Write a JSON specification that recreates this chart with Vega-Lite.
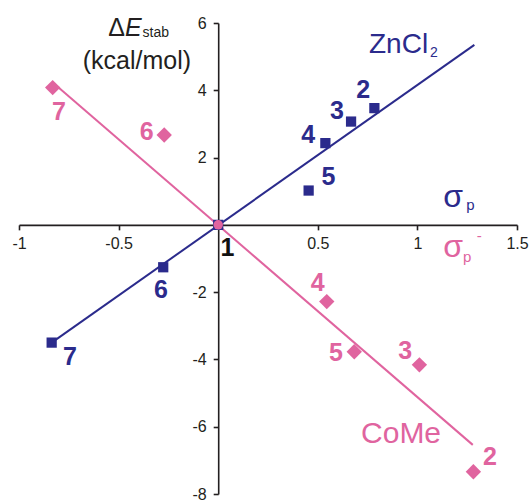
{
  "$schema": "https://vega.github.io/schema/vega-lite/v6.json",
  "width": 498,
  "height": 471,
  "autosize": {"type": "none"},
  "padding": {"left": 19, "top": 23, "right": 15, "bottom": 8},
  "background": "white",
  "config": {"view": {"stroke": null}, "text": {"font": "Liberation Sans"}},
  "datasets": {
    "points": [
      {"series": "ZnCl2", "id": "2", "x": 0.784, "y": 3.47},
      {"series": "ZnCl2", "id": "3", "x": 0.667, "y": 3.07},
      {"series": "ZnCl2", "id": "4", "x": 0.538, "y": 2.43},
      {"series": "ZnCl2", "id": "5", "x": 0.454, "y": 1.02},
      {"series": "ZnCl2", "id": "1", "x": 0, "y": 0},
      {"series": "ZnCl2", "id": "6", "x": -0.276, "y": -1.26},
      {"series": "ZnCl2", "id": "7", "x": -0.836, "y": -3.5},
      {"series": "CoMe", "id": "7", "x": -0.831, "y": 4.08},
      {"series": "CoMe", "id": "6", "x": -0.271, "y": 2.67},
      {"series": "CoMe", "id": "4", "x": 0.545, "y": -2.28},
      {"series": "CoMe", "id": "5", "x": 0.683, "y": -3.77},
      {"series": "CoMe", "id": "3", "x": 1.01, "y": -4.16},
      {"series": "CoMe", "id": "2", "x": 1.281, "y": -7.34}
    ],
    "fits": [
      {"series": "ZnCl2", "x": -0.836, "y": -3.5},
      {"series": "ZnCl2", "x": 1.286, "y": 5.35},
      {"series": "CoMe", "x": -0.803, "y": 4.09},
      {"series": "CoMe", "x": 1.278, "y": -6.54}
    ],
    "labels": [
      {"series": "ZnCl2", "label": "2", "x": 0.728, "y": 4.01},
      {"series": "ZnCl2", "label": "3", "x": 0.596, "y": 3.39},
      {"series": "ZnCl2", "label": "4", "x": 0.452, "y": 2.67},
      {"series": "ZnCl2", "label": "5", "x": 0.553, "y": 1.43},
      {"series": "ZnCl2", "label": "6", "x": -0.287, "y": -1.94},
      {"series": "ZnCl2", "label": "7", "x": -0.744, "y": -3.94},
      {"series": "origin", "label": "1", "x": 0.046, "y": -0.7},
      {"series": "CoMe", "label": "7", "x": -0.799, "y": 3.36},
      {"series": "CoMe", "label": "6", "x": -0.359, "y": 2.77},
      {"series": "CoMe", "label": "4", "x": 0.4995, "y": -1.74},
      {"series": "CoMe", "label": "5", "x": 0.591, "y": -3.8},
      {"series": "CoMe", "label": "3", "x": 0.939, "y": -3.74},
      {"series": "CoMe", "label": "2", "x": 1.364, "y": -6.89}
    ]
  },
  "encoding": {
    "x": {
      "field": "x", "type": "quantitative",
      "scale": {"domain": [-1, 1.5], "nice": false, "zero": false},
      "axis": {
        "orient": "bottom", "offset": -269.14, "title": null, "grid": false,
        "values": [-1, -0.5, 0.5, 1, 1.5], "labelExpr": "datum.value + ''",
        "labelFlush": false, "labelOverlap": false,
        "domainColor": "#231f20", "domainWidth": 1.6, "tickColor": "#231f20", "tickWidth": 1.6, "tickSize": 5,
        "labelFont": "Liberation Sans", "labelFontSize": 16, "labelColor": "#231f20", "labelPadding": 6
      }
    },
    "y": {
      "field": "y", "type": "quantitative",
      "scale": {"domain": [-8, 6], "nice": false, "zero": false},
      "axis": {
        "orient": "left", "offset": -199.2, "title": null, "grid": false,
        "values": [-8, -6, -4, -2, 2, 4, 6], "labelExpr": "datum.value + ''",
        "labelFlush": false, "labelOverlap": false,
        "domainColor": "#231f20", "domainWidth": 1.6, "tickColor": "#231f20", "tickWidth": 1.6, "tickSize": 5,
        "labelFont": "Liberation Sans", "labelFontSize": 16, "labelColor": "#231f20", "labelPadding": 7
      }
    }
  },
  "layer": [
    {
      "data": {"name": "fits"},
      "mark": {"type": "line", "strokeWidth": 2},
      "encoding": {
        "detail": {"field": "series"},
        "color": {"field": "series", "type": "nominal", "legend": null,
          "scale": {"domain": ["ZnCl2", "CoMe", "origin"], "range": ["#2b2b8c", "#e0649f", "#111111"]}}
      }
    },
    {
      "data": {"name": "points"},
      "mark": {"type": "point", "filled": true, "opacity": 1, "size": 105},
      "encoding": {
        "color": {"field": "series", "type": "nominal", "legend": null},
        "shape": {"field": "series", "type": "nominal", "legend": null,
          "scale": {"domain": ["ZnCl2", "CoMe"], "range": ["M-1,-1H1V1H-1Z", "M-1.5,0L0,-1.5L1.5,0L0,1.5Z"]}}
      }
    },
    {
      "data": {"values": [{"x": 0, "y": 0}]},
      "mark": {"type": "circle", "color": "#e0649f", "size": 90, "opacity": 1}
    },
    {
      "data": {"name": "labels"},
      "mark": {"type": "text", "fontSize": 25, "fontWeight": "bold", "align": "center", "baseline": "middle"},
      "encoding": {
        "text": {"field": "label"},
        "color": {"field": "series", "type": "nominal", "legend": null}
      }
    },
    {
      "data": {"values": [{"x": 0.757, "y": 5.35, "t": "ZnCl"}]},
      "mark": {"type": "text", "fontSize": 28, "align": "left", "baseline": "middle", "color": "#2b2b8c"},
      "encoding": {"text": {"field": "t"}}
    },
    {
      "data": {"values": [{"x": 1.063, "y": 5.12, "t": "2"}]},
      "mark": {"type": "text", "fontSize": 14, "align": "left", "baseline": "middle", "color": "#2b2b8c"},
      "encoding": {"text": {"field": "t"}}
    },
    {
      "data": {"values": [{"x": 0.717, "y": -6.22, "t": "CoMe"}]},
      "mark": {"type": "text", "fontSize": 30, "align": "left", "baseline": "middle", "color": "#e0649f"},
      "encoding": {"text": {"field": "t"}}
    },
    {
      "data": {"values": [{"x": 1.13, "y": 0.53, "t": "σ", "s": "ZnCl2"}, {"x": 1.13, "y": -0.955, "t": "σ", "s": "CoMe"}]},
      "mark": {"type": "text", "fontSize": 32, "align": "left", "baseline": "alphabetic"},
      "encoding": {"text": {"field": "t"}, "color": {"field": "s", "type": "nominal", "legend": null}}
    },
    {
      "data": {"values": [{"x": 1.245, "y": 0.45, "t": "p", "s": "ZnCl2"}, {"x": 1.229, "y": -1.1, "t": "p", "s": "CoMe"}]},
      "mark": {"type": "text", "fontSize": 15, "align": "left", "baseline": "alphabetic"},
      "encoding": {"text": {"field": "t"}, "color": {"field": "s", "type": "nominal", "legend": null}}
    },
    {
      "data": {"values": [{"x": 1.31, "y": -0.33, "t": "-"}]},
      "mark": {"type": "text", "fontSize": 15, "align": "center", "baseline": "middle", "color": "#e0649f"},
      "encoding": {"text": {"field": "t"}}
    },
    {
      "data": {"values": [{"x": -0.552, "y": 5.615, "t": "Δ"}]},
      "mark": {"type": "text", "fontSize": 25, "align": "left", "baseline": "alphabetic", "color": "#231f20"},
      "encoding": {"text": {"field": "t"}}
    },
    {
      "data": {"values": [{"x": -0.468, "y": 5.615, "t": "E"}]},
      "mark": {"type": "text", "fontSize": 25, "fontStyle": "italic", "align": "left", "baseline": "alphabetic", "color": "#231f20"},
      "encoding": {"text": {"field": "t"}}
    },
    {
      "data": {"values": [{"x": -0.38, "y": 5.585, "t": "stab"}]},
      "mark": {"type": "text", "fontSize": 14, "align": "left", "baseline": "alphabetic", "color": "#231f20"},
      "encoding": {"text": {"field": "t"}}
    },
    {
      "data": {"values": [{"x": -0.408, "y": 4.87, "t": "(kcal/mol)"}]},
      "mark": {"type": "text", "fontSize": 25, "align": "center", "baseline": "middle", "color": "#231f20"},
      "encoding": {"text": {"field": "t"}}
    }
  ]
}
